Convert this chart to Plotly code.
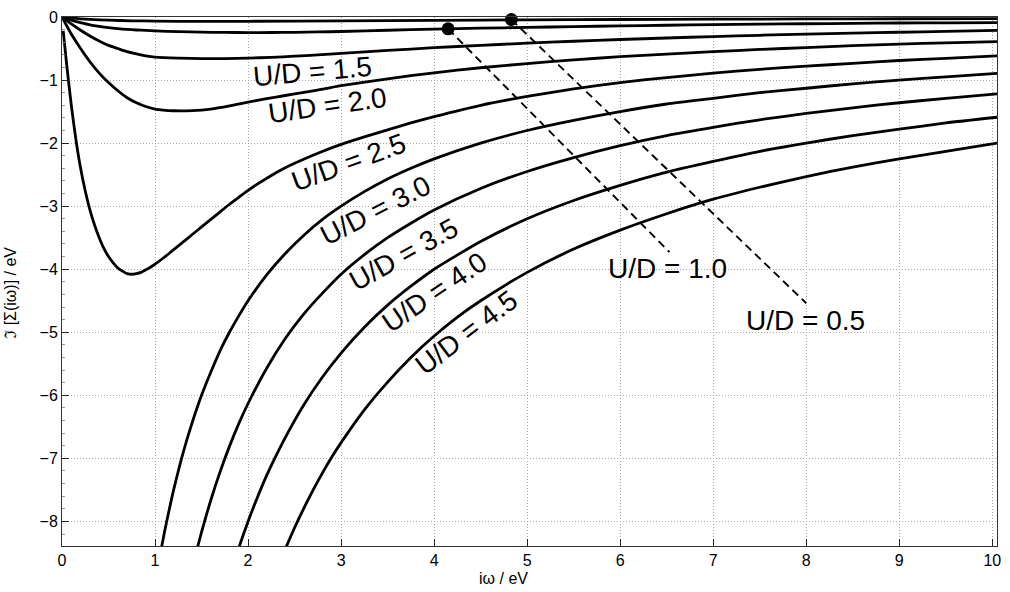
import plotly.graph_objects as go

# Imaginary part of the self-energy on the Matsubara axis, one curve per U/D
w_05 = [0, 0.1, 0.2, 0.3, 0.5, 0.75, 1.0, 1.5, 2.0, 3.0, 4.0, 5.0, 6.0, 7.0, 8.0, 9.0, 10.05]
s_05 = [0, -0.015, -0.028, -0.038, -0.05, -0.06, -0.065, -0.07, -0.068, -0.06, -0.052, -0.045, -0.04, -0.035, -0.031, -0.028, -0.026]

w_10 = [0, 0.1, 0.2, 0.3, 0.4, 0.5, 0.6, 0.7, 0.8, 0.9, 1.0, 1.25, 1.5, 1.75, 2.0, 2.25, 2.5, 2.75,
        3.0, 3.5, 4.0, 4.5, 5.0, 5.5, 6.0, 6.5, 7.0, 7.5, 8.0, 8.5, 9.0, 9.5, 10.05]
s_10 = [0, -0.05, -0.09, -0.125, -0.15, -0.17, -0.185, -0.197, -0.206, -0.213, -0.22, -0.232, -0.24, -0.245,
        -0.247, -0.246, -0.243, -0.237, -0.23, -0.21, -0.193, -0.178, -0.165, -0.152, -0.141, -0.131,
        -0.122, -0.114, -0.107, -0.1, -0.095, -0.092, -0.089]

w_15 = [0, 0.1, 0.2, 0.3, 0.4, 0.5, 0.6, 0.7, 0.8, 0.9, 1.0, 1.25, 1.5, 1.75, 2.0, 2.25, 2.5, 2.75,
        3.0, 3.5, 4.0, 4.5, 5.0, 5.5, 6.0, 6.5, 7.0, 7.5, 8.0, 8.5, 9.0, 9.5, 10.05]
s_15 = [0, -0.11, -0.21, -0.3, -0.38, -0.45, -0.5, -0.55, -0.585, -0.615, -0.635, -0.653, -0.66, -0.66,
        -0.652, -0.64, -0.622, -0.6, -0.577, -0.53, -0.487, -0.45, -0.415, -0.385, -0.357, -0.333,
        -0.31, -0.29, -0.272, -0.256, -0.242, -0.228, -0.212]

w_20 = [0, 0.1, 0.2, 0.3, 0.4, 0.5, 0.6, 0.7, 0.8, 0.9, 1.0, 1.2, 1.4, 1.6, 1.8, 2.0, 2.2, 2.4, 2.6,
        2.8, 3.0, 3.5, 4.0, 4.5, 5.0, 5.5, 6.0, 6.5, 7.0, 7.5, 8.0, 8.5, 9.0, 9.5, 10.05]
s_20 = [0, -0.27, -0.5, -0.71, -0.89, -1.04, -1.17, -1.28, -1.36, -1.42, -1.46, -1.487, -1.485, -1.46,
        -1.41, -1.35, -1.295, -1.245, -1.195, -1.145, -1.09, -0.98, -0.885, -0.805, -0.738, -0.68,
        -0.63, -0.59, -0.55, -0.515, -0.485, -0.455, -0.43, -0.41, -0.39]

w_25 = [0.013, 0.05, 0.1, 0.15, 0.2, 0.25, 0.3, 0.35, 0.4, 0.45, 0.5, 0.55, 0.6, 0.65, 0.7, 0.75, 0.8,
        0.85, 0.9, 0.95, 1.0, 1.1, 1.2, 1.3, 1.4, 1.5, 1.6, 1.7, 1.8, 1.9, 2.0, 2.1, 2.2, 2.3, 2.4, 2.5,
        2.75, 3.0, 3.25, 3.5, 3.75, 4.0, 4.5, 5.0, 5.5, 6.0, 6.5, 7.0, 7.5, 8.0, 8.5, 9.0, 9.5, 10.05]
s_25 = [-0.22, -0.75, -1.4, -1.95, -2.4, -2.76, -3.06, -3.3, -3.5, -3.67, -3.8, -3.9, -3.98, -4.03,
        -4.07, -4.08, -4.07, -4.05, -4.01, -3.97, -3.92, -3.81, -3.69, -3.57, -3.45, -3.33, -3.21,
        -3.09, -2.97, -2.86, -2.75, -2.65, -2.56, -2.47, -2.39, -2.32, -2.16, -2.02, -1.9, -1.79,
        -1.68, -1.58, -1.4, -1.26, -1.14, -1.04, -0.96, -0.89, -0.83, -0.78, -0.735, -0.69, -0.655, -0.615]

w_30 = [1.0, 1.05, 1.1, 1.15, 1.2, 1.3, 1.4, 1.5, 1.6, 1.7, 1.8, 1.9, 2.0, 2.2, 2.4, 2.6, 2.8, 3.0,
        3.25, 3.5, 3.75, 4.0, 4.5, 5.0, 5.5, 6.0, 6.5, 7.0, 7.5, 8.0, 8.5, 9.0, 9.5, 10.05]
s_30 = [-9.0, -8.57, -8.18, -7.83, -7.5, -6.92, -6.43, -6.0, -5.63, -5.29, -5.0, -4.74, -4.5, -4.09,
        -3.75, -3.46, -3.21, -3.0, -2.77, -2.57, -2.4, -2.25, -2.0, -1.8, -1.64, -1.5, -1.38, -1.29,
        -1.2, -1.13, -1.06, -1.0, -0.95, -0.895]

w_35 = [1.4, 1.45, 1.5, 1.6, 1.7, 1.8, 1.9, 2.0, 2.2, 2.4, 2.6, 2.8, 3.0, 3.25, 3.5, 3.75, 4.0, 4.5,
        5.0, 5.5, 6.0, 6.5, 7.0, 7.5, 8.0, 8.5, 9.0, 9.5, 10.05]
s_35 = [-8.75, -8.45, -8.17, -7.66, -7.21, -6.81, -6.45, -6.13, -5.57, -5.1, -4.71, -4.38, -4.08,
        -3.77, -3.5, -3.27, -3.06, -2.72, -2.45, -2.23, -2.04, -1.88, -1.75, -1.63, -1.53, -1.44,
        -1.36, -1.29, -1.22]

w_40 = [1.85, 1.9, 2.0, 2.1, 2.2, 2.3, 2.4, 2.6, 2.8, 3.0, 3.25, 3.5, 3.75, 4.0, 4.5, 5.0, 5.5, 6.0,
        6.5, 7.0, 7.5, 8.0, 8.5, 9.0, 9.5, 10.05]
s_40 = [-8.65, -8.42, -8.0, -7.62, -7.27, -6.96, -6.67, -6.15, -5.71, -5.33, -4.92, -4.57, -4.27,
        -4.0, -3.56, -3.2, -2.91, -2.67, -2.46, -2.29, -2.13, -2.0, -1.88, -1.78, -1.68, -1.59]

w_45 = [2.35, 2.4, 2.5, 2.6, 2.7, 2.8, 2.9, 3.0, 3.25, 3.5, 3.75, 4.0, 4.25, 4.5, 5.0, 5.5, 6.0, 6.5,
        7.0, 7.5, 8.0, 8.5, 9.0, 9.5, 10.05]
s_45 = [-8.62, -8.44, -8.1, -7.79, -7.5, -7.23, -6.98, -6.75, -6.23, -5.79, -5.4, -5.06, -4.76, -4.5,
        -4.05, -3.68, -3.38, -3.12, -2.89, -2.7, -2.53, -2.38, -2.25, -2.13, -2.0]

curves = [
    (w_05, s_05), (w_10, s_10), (w_15, s_15), (w_20, s_20), (w_25, s_25),
    (w_30, s_30), (w_35, s_35), (w_40, s_40), (w_45, s_45),
]

# Leader lines for the two weak-coupling curves: start point on the curve, end at the label
lead_10_x = [4.15, 6.53]
lead_10_y = [-0.188, -3.73]
lead_05_x = [4.83, 8.0]
lead_05_y = [-0.04, -4.54]

# Curve labels: text, position and tilt
label_text = ["U/D = 1.5", "U/D = 2.0", "U/D = 2.5", "U/D = 3.0", "U/D = 3.5",
              "U/D = 4.0", "U/D = 4.5", "U/D = 1.0", "U/D = 0.5"]
label_x = [2.69, 2.85, 3.08, 3.37, 3.67, 4.0, 4.35, 6.51, 7.99]
label_y = [-0.87, -1.41, -2.30, -3.07, -3.76, -4.37, -5.01, -3.99, -4.82]
label_angle = [-5, -8, -20, -27, -29, -34, -37, 0, 0]

x_ticks = list(range(0, 11))
y_ticks = list(range(-8, 1))

FONT = "Arial, 'Liberation Sans', Helvetica, sans-serif"

fig = go.Figure()

for w, s in curves:
    fig.add_trace(go.Scatter(
        x=w, y=s, mode="lines",
        line=dict(color="black", width=2.8, shape="spline", smoothing=0.6),
        hoverinfo="skip", showlegend=False,
    ))

for lx, ly in [(lead_10_x, lead_10_y), (lead_05_x, lead_05_y)]:
    fig.add_trace(go.Scatter(
        x=lx, y=ly, mode="lines",
        line=dict(color="black", width=1.9, dash="8px,5px"),
        hoverinfo="skip", showlegend=False,
    ))
    fig.add_trace(go.Scatter(
        x=[lx[0]], y=[ly[0]], mode="markers",
        marker=dict(color="black", size=13),
        hoverinfo="skip", showlegend=False, cliponaxis=False,
    ))

for t, x, y, a in zip(label_text, label_x, label_y, label_angle):
    fig.add_annotation(x=x, y=y, xref="x", yref="y", text=t, textangle=a,
                       showarrow=False, font=dict(family=FONT, size=28, color="black"))

# Axis titles placed as free text
fig.add_annotation(x=0.472, y=-0.0615, xref="paper", yref="paper", xanchor="center",
                   yanchor="middle", text="iω / eV", showarrow=False,
                   font=dict(family=FONT, size=16, color="black"))
fig.add_annotation(x=-0.0554, y=0.479, xref="paper", yref="paper", xanchor="center",
                   yanchor="middle", text="ℑ [Σ(iω)] / eV", textangle=-90, showarrow=False,
                   font=dict(family=FONT, size=16, color="black"))

axis_common = dict(
    showline=True, linecolor="#333333", linewidth=1, mirror=True,
    showgrid=True, gridcolor="#a8a8a8", gridwidth=1, griddash="1px,2px",
    zeroline=False, ticks="inside", ticklen=7, tickcolor="#222222",
    tickfont=dict(family=FONT, size=16, color="black"),
)

fig.update_xaxes(range=[0, 10.05], tickvals=x_ticks, **axis_common)
fig.update_yaxes(range=[-8.39, 0], tickvals=y_ticks,
                 minor=dict(ticks="inside", ticklen=3, dtick=0.2, tickcolor="#999999", showgrid=False),
                 **axis_common)

fig.update_layout(
    width=1010, height=592,
    margin=dict(l=62, r=9, t=10, b=46),
    plot_bgcolor="white", paper_bgcolor="white",
    font=dict(family=FONT),
)

fig.write_html("out.html")
